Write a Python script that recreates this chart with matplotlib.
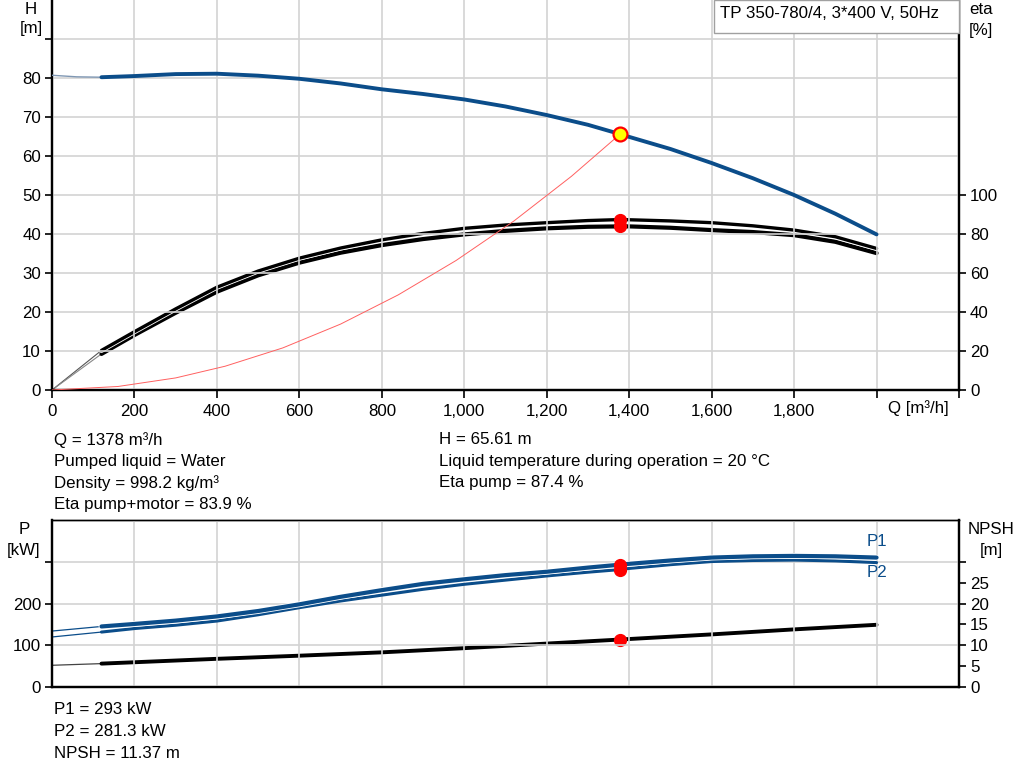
import matplotlib
matplotlib.use("Agg")
import matplotlib.pyplot as plt
from matplotlib.patches import Rectangle
import matplotlib.patheffects as pe

plt.rcParams['font.family'] = ['Liberation Sans', 'DejaVu Sans']

# ---------------- data ----------------
q_h_thin = [0, 60, 120]
h_thin = [80.7, 80.3, 80.2]
q_h = [120, 200, 300, 400, 500, 600, 700, 800, 900, 1000, 1100, 1200, 1300, 1378, 1400,
       1500, 1600, 1700, 1800, 1900, 2000]
h_vals = [80.2, 80.5, 81.0, 81.1, 80.6, 79.8, 78.6, 77.1, 75.9, 74.5, 72.7, 70.5, 68.0, 65.61,
          64.9, 61.8, 58.2, 54.3, 50.0, 45.2, 39.9]

q_eta = q_h
eta_pump = [20.3, 29.9, 41.6, 52.7, 61.0, 67.6, 72.8, 77.0, 80.3, 82.9, 84.6, 85.8, 86.9, 87.4,
            87.3, 86.7, 85.8, 84.2, 82.0, 78.6, 72.6]
eta_total = [18.5, 28.2, 39.6, 50.4, 58.8, 65.3, 70.4, 74.3, 77.4, 79.8, 81.6, 82.9, 83.7, 83.9,
             83.9, 83.2, 82.0, 81.0, 79.4, 76.0, 70.2]
q_eta_thin = [0, 120]
eta_pump_thin = [0, 20.3]
eta_total_thin = [0, 18.5]

q_sys = [0, 160, 300, 420, 560, 700, 840, 980, 1120, 1260, 1378]
h_sys = [0, 0.9, 3.1, 6.1, 10.8, 16.9, 24.4, 33.2, 43.3, 54.8, 65.61]

q_p = [120, 200, 300, 400, 500, 600, 700, 800, 900, 1000, 1100, 1200, 1300, 1378, 1400,
       1500, 1600, 1700, 1800, 1900, 2000]
p1_vals = [145, 151, 159, 169, 182, 198, 216, 232, 247, 258, 268, 276, 286, 293, 295,
           303, 310, 313, 314, 313, 310]
p2_vals = [131.6, 140, 148, 158, 173, 190, 206, 220, 234, 246, 256, 266, 275, 281.3, 284,
           293, 300.5, 303, 304, 302, 298]
q_p_thin = [0, 120]
p1_thin = [134, 145]
p2_thin = [119.8, 131.6]

q_npsh = [120, 400, 600, 800, 1000, 1200, 1378, 1600, 1800, 2000]
npsh_vals = [5.6, 6.75, 7.5, 8.3, 9.3, 10.4, 11.37, 12.6, 13.8, 14.9]
q_npsh_thin = [0, 120]
npsh_thin = [5.2, 5.6]

duty_q = 1378
duty_h = 65.61
duty_eta_pump = 87.4
duty_eta_total = 83.9
duty_p1 = 293
duty_p2 = 281.3
duty_npsh = 11.37

x_ticks = [0, 200, 400, 600, 800, 1000, 1200, 1400, 1600, 1800, 2000, 2200]
x_labels = ['0', '200', '400', '600', '800', '1,000', '1,200', '1,400', '1,600', '1,800', '', '']

info_left = ["Q = 1378 m³/h", "Pumped liquid = Water", "Density = 998.2 kg/m³",
             "Eta pump+motor = 83.9 %"]
info_right = ["H = 65.61 m", "Liquid temperature during operation = 20 °C", "Eta pump = 87.4 %"]
info_bottom = ["P1 = 293 kW", "P2 = 281.3 kW", "NPSH = 11.37 m"]
title = "TP 350-780/4, 3*400 V, 50Hz"

# ---------------- style ----------------
W, H = 1024, 781
BLUE = '#0b4d8a'
GRID = '#d3d3d3'
FS = 12.2

fig = plt.figure(figsize=(W / 100, H / 100), dpi=100)


def fx(px):
    return px / W


def fy(py):
    return 1 - py / H


halo = [pe.Stroke(linewidth=4.0, foreground='white'), pe.Normal()]

L, R = 52, 959
ax = fig.add_axes([fx(L), fy(390), fx(R - L), 390 / H])
ax2 = ax.twinx()
axb = fig.add_axes([fx(L), fy(687), fx(R - L), 167 / H])
axb2 = axb.twinx()

for a in (ax, axb):
    a.set_xlim(0, 2200)
    a.set_zorder(2)
    a.patch.set_visible(False)
for a in (ax2, axb2):
    a.set_zorder(1)

ax.set_ylim(0, 100)
ax2.set_ylim(0, 200)
axb.set_ylim(0, 400)
axb2.set_ylim(0, 40)

# grids
for g in [200, 400, 600, 800, 1000, 1200, 1400, 1600, 1800, 2000]:
    ax.axvline(g, color=GRID, lw=1.2, zorder=0)
    axb.axvline(g, color=GRID, lw=1.2, zorder=0)
for g in range(10, 100, 10):
    ax.axhline(g, color=GRID, lw=1.2, zorder=0)
for g in [100, 200, 300]:
    axb.axhline(g, color=GRID, lw=1.2, zorder=0)

# spines
for a in (ax, ax2):
    a.spines['top'].set_visible(False)
    a.spines['left'].set_linewidth(1.6)
    a.spines['right'].set_linewidth(1.6)
    a.spines['bottom'].set_linewidth(1.6)
for a in (axb, axb2):
    a.spines['top'].set_linewidth(1.0)
    a.spines['left'].set_linewidth(1.6)
    a.spines['right'].set_linewidth(1.6)
    a.spines['bottom'].set_linewidth(1.6)

# ticks
ax.set_xticks(x_ticks)
ax.set_xticklabels(x_labels)
ax.set_yticks(range(0, 100, 10))
ax.set_yticklabels([str(v) if v <= 80 else '' for v in range(0, 100, 10)])
ax2.set_yticks(range(0, 101, 20))
axb.set_xticks([])
axb.set_yticks([0, 100, 200, 300])
axb.set_yticklabels(['0', '100', '200', ''])
axb2.set_yticks(range(0, 31, 5))
axb2.set_yticklabels([str(v) if v < 30 else '' for v in range(0, 31, 5)])
for a in (ax, ax2, axb, axb2):
    a.tick_params(labelsize=FS, width=1.2, length=5, direction='out', pad=3)
ax.tick_params(axis='x', length=6, pad=4)

# ---- top: H curve ----
ax.plot(q_h_thin, h_thin, color='#7f97b3', lw=1.0, zorder=3)
ax.plot(q_h, h_vals, color=BLUE, lw=2.8, zorder=4, solid_capstyle='round')
# system curve
ax.plot(q_sys, h_sys, color='#ff6060', lw=0.7, zorder=3)
# eta curves
ax2.plot(q_eta_thin, eta_pump_thin, color='#555555', lw=0.8)
ax2.plot(q_eta_thin, eta_total_thin, color='#888888', lw=0.8)
ax2.plot(q_eta, eta_total, color='black', lw=3.0, solid_capstyle='round')
ax2.plot(q_eta, eta_pump, color='black', lw=2.4, solid_capstyle='round',
         path_effects=[pe.Stroke(linewidth=3.6, foreground='white'), pe.Normal()])
ax2.plot([duty_q], [duty_eta_pump], 'o', color='red', ms=8.5, zorder=5)
ax2.plot([duty_q], [duty_eta_total], 'o', color='red', ms=8.5, zorder=5)
ax.plot([duty_q], [duty_h], 'o', mfc='#ffff00', mec='red', mew=1.6, ms=10, zorder=6)

# ---- bottom ----
axb.plot(q_p_thin, p1_thin, color=BLUE, lw=0.9)
axb.plot(q_p_thin, p2_thin, color=BLUE, lw=0.9)
axb.plot(q_p, p2_vals, color=BLUE, lw=2.2, solid_capstyle='round')
axb.plot(q_p, p1_vals, color=BLUE, lw=3.0, solid_capstyle='round',
         path_effects=[pe.Stroke(linewidth=4.2, foreground='white'), pe.Normal()])
axb.plot([duty_q], [duty_p1], 'o', color='red', ms=8.5, zorder=5)
axb.plot([duty_q], [duty_p2], 'o', color='red', ms=8.5, zorder=5)
axb2.plot(q_npsh_thin, npsh_thin, color='#444444', lw=0.9)
axb2.plot(q_npsh, npsh_vals, color='black', lw=2.8, solid_capstyle='round')
axb2.plot([duty_q], [duty_npsh], 'o', color='red', ms=8.5, zorder=5)
axb.text(2000, 349, 'P1', color=BLUE, fontsize=FS, ha='center', va='center')
axb.text(2000, 275, 'P2', color=BLUE, fontsize=FS, ha='center', va='center')

# ---- figure texts ----
fig.text(fx(31), fy(9), 'H', fontsize=FS, ha='center', va='center')
fig.text(fx(31), fy(29), '[m]', fontsize=FS, ha='center', va='center')
fig.text(fx(981), fy(10), 'eta', fontsize=FS, ha='center', va='center')
fig.text(fx(981), fy(30), '[%]', fontsize=FS, ha='center', va='center')
fig.text(fx(24), fy(530), 'P', fontsize=FS, ha='center', va='center')
fig.text(fx(24), fy(550), '[kW]', fontsize=FS, ha='center', va='center')
fig.text(fx(991), fy(530), 'NPSH', fontsize=FS, ha='center', va='center')
fig.text(fx(991), fy(550), '[m]', fontsize=FS, ha='center', va='center')
fig.text(fx(918), fy(408), 'Q [m³/h]', fontsize=FS, ha='center', va='center')

for i, s in enumerate(info_left):
    fig.text(fx(54), fy(440 + i * 21.5), s, fontsize=FS, ha='left', va='center')
for i, s in enumerate(info_right):
    fig.text(fx(439), fy(440 + i * 21.5), s, fontsize=FS, ha='left', va='center')
for i, s in enumerate(info_bottom):
    fig.text(fx(54), fy(710 + i * 21.5), s, fontsize=FS, ha='left', va='center')

fig.patches.append(Rectangle((fx(714), fy(33)), fx(959 - 714), 33 / H, transform=fig.transFigure,
                             facecolor='white', edgecolor='#a0a0a0', lw=1.0, zorder=10))
fig.text(fx(720), fy(14), title, fontsize=FS, ha='left', va='center', zorder=11)

fig.savefig('out.png', dpi=100)
